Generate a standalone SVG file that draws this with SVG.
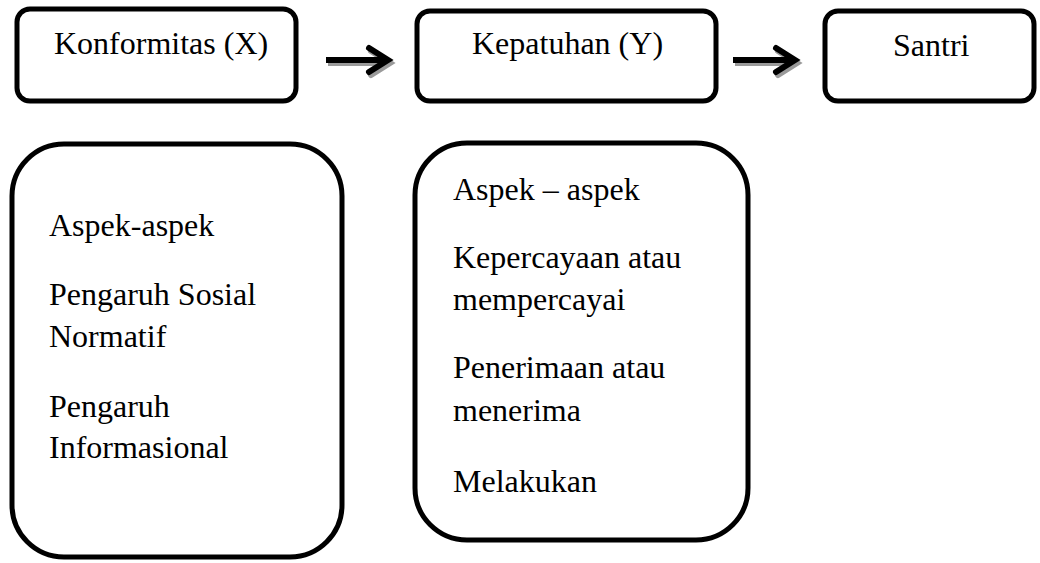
<svg xmlns="http://www.w3.org/2000/svg" width="1040" height="563" viewBox="0 0 1040 563">
<defs>
<style>
.box{fill:#fff;stroke:#000;stroke-width:5}
.t{font-family:"Liberation Serif","Times New Roman",serif;font-size:32px;fill:#000}
.sh{fill:none;stroke:#9a9a9a;stroke-width:6}
.ar{fill:none;stroke:#000;stroke-width:6}
</style>
<g id="arrowShape">
<path d="M0,0 H58" />
<path d="M43,-12 L62,0 L43,12" stroke-linejoin="miter" stroke-linecap="round"/>
</g>
</defs>
<rect width="1040" height="563" fill="#fff"/>
<g id="n1"><rect class="box" x="17" y="9" width="279" height="92" rx="13"/><text class="t" x="54" y="54">Konformitas (X)</text></g>
<g id="n2"><rect class="box" x="417" y="11" width="299" height="90" rx="13"/><text class="t" x="472" y="54">Kepatuhan (Y)</text></g>
<g id="n3"><rect class="box" x="825" y="11" width="209" height="90" rx="13"/><text class="t" x="893" y="56">Santri</text></g>
<g id="n4"><rect class="box" x="12" y="144" width="330" height="413" rx="52"/>
<text class="t" x="49" y="236">Aspek-aspek</text>
<text class="t" x="49" y="305">Pengaruh Sosial</text>
<text class="t" x="49" y="347">Normatif</text>
<text class="t" x="49" y="417">Pengaruh</text>
<text class="t" x="49" y="458">Informasional</text></g>
<g id="n5"><rect class="box" x="415" y="143" width="333" height="397" rx="52"/>
<text class="t" x="453" y="200">Aspek – aspek</text>
<text class="t" x="453" y="268">Kepercayaan atau</text>
<text class="t" x="453" y="310">mempercayai</text>
<text class="t" x="453" y="378">Penerimaan atau</text>
<text class="t" x="453" y="421">menerima</text>
<text class="t" x="453" y="492">Melakukan</text></g>
<g id="connectors">
<g class="sh" transform="translate(328,63)"><use href="#arrowShape"/></g>
<g class="ar" transform="translate(326,60)"><use href="#arrowShape"/></g>
<g class="sh" transform="translate(735,63)"><use href="#arrowShape"/></g>
<g class="ar" transform="translate(733,60)"><use href="#arrowShape"/></g>
</g>
</svg>
